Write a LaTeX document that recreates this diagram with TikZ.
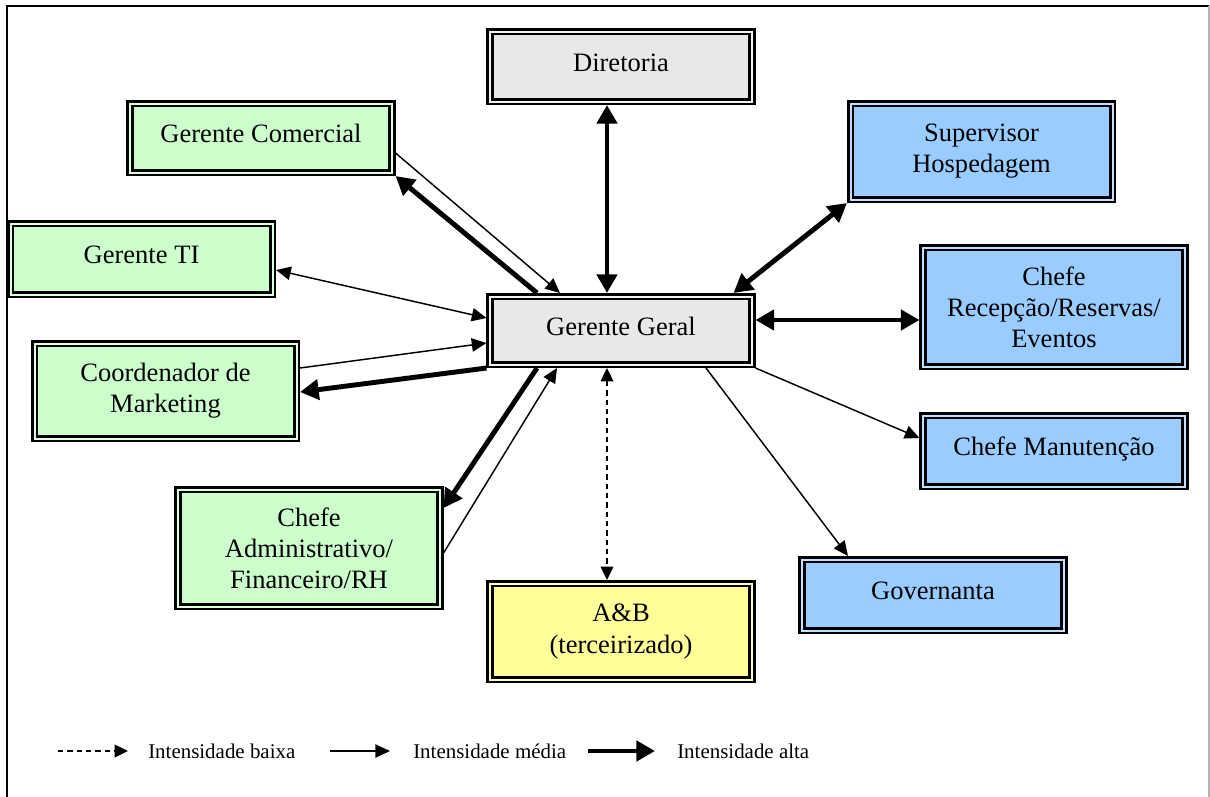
\documentclass[tikz,border=0pt]{standalone}
\usepackage{fontspec}
\setmainfont{Liberation Serif}
\usetikzlibrary{arrows.meta,calc}
\definecolor{cinza}{HTML}{E8E8E8}
\definecolor{verde}{HTML}{CCFFCC}
\definecolor{azul}{HTML}{99CCFF}
\definecolor{amarelo}{HTML}{FFFF99}
\begin{document}
\begin{tikzpicture}[x=0.75pt,y=-0.75pt]
\tikzset{baixa/.style={line width=1.1pt,dash pattern=on 4pt off 3pt,>={Triangle[length=10pt,width=9.5pt]}}}
\tikzset{media/.style={line width=1.1pt,>={Triangle[length=11pt,width=10pt]}}}
\tikzset{alta/.style={line width=3.7pt,>={Triangle[length=14pt,width=15pt]}}}
\tikzstyle{cargo}=[draw,double,line width=1.9pt,double distance=1.5pt,minimum width=196.5pt,inner sep=0pt,outer sep=2.65pt,align=center,font=\fontsize{19.9}{23.3}\selectfont]
\tikzstyle{linha}=[text height=13.5pt,text depth=6.6pt]
\tikzstyle{legenda}=[anchor=west,inner sep=0pt,font=\fontsize{15.7}{18}\selectfont]
\useasboundingbox (0,0) rectangle (1210,796);
% moldura
\draw[line width=1.5pt] (7,800)--(7,6)--(1209,6);
\draw[line width=0.8pt,black!30] (1209,6)--(1209,800);
% cargos
\node[cargo,linha,fill=cinza,double=cinza!50!white,minimum height=52.5pt] (dir)at(621,66.5){Diretoria};
\node[cargo,linha,fill=cinza,double=cinza!50!white,minimum height=51pt] (gg)at(621,330.5){Gerente Geral};
\node[cargo,fill=amarelo,double=amarelo!60!white,minimum height=72pt] (ab)at(621,631.5){A\&B\\(terceirizado)};
\node[cargo,linha,fill=verde,double=verde!60!white,minimum height=51.75pt] (gcom)at(261,138){Gerente Comercial};
\node[cargo,linha,fill=verde,double=verde!60!white,minimum height=53.25pt] (gti)at(141.5,259){Gerente TI};
\node[cargo,fill=verde,double=verde!60!white,minimum height=71.25pt] (cmkt)at(165.5,391){Coordenador de\\Marketing};
\node[cargo,fill=verde,double=verde!60!white,minimum height=87.75pt] (cadm)at(309,548){Chefe\\Administrativo/\\Financeiro/RH};
\node[cargo,fill=azul,double=azul!60!white,minimum height=72pt] (sup)at(981.5,151.5){Supervisor\\Hospedagem};
\node[cargo,fill=azul,double=azul!60!white,minimum height=89.25pt] (crec)at(1054,307){Chefe\\Recepção/Reservas/\\Eventos};
\node[cargo,linha,fill=azul,double=azul!60!white,minimum height=53.25pt] (cman)at(1054,451){Chefe Manutenção};
\node[cargo,linha,fill=azul,double=azul!60!white,minimum height=53.25pt] (gov)at(933,595){Governanta};
% relacoes
\draw[alta,<->] ($(dir.south)+(-14,0)$)--($(gg.north)+(-14,0)$);
\draw[baixa,<->] ($(gg.south)+(-14,0)$)--($(ab.north)+(-14,0)$);
\draw[media,->] ($(gcom.east)+(0,15)$)--($(gg.north)+(-61,0)$);
\draw[alta,->] ($(gg.north)+(-84,0)$)--(gcom.south east);
\draw[media,<->] ($(gti.east)+(0,11)$)--($(gg.west)+(0,-12.5)$);
\draw[media,->] ($(cmkt.east)+(0,-23)$)--($(gg.west)+(0,12.5)$);
\draw[alta,->] (gg.south west)--($(cmkt.east)+(0,1)$);
\draw[alta,->] ($(gg.south)+(-84,0)$)--($(cadm.east)+(0,-40)$);
\draw[media,->] ($(cadm.east)+(0,5)$)--($(gg.south)+(-64,0)$);
\draw[alta,<->] ($(gg.north east)+(-22,0)$)--(sup.south west);
\draw[alta,<->] ($(gg.east)+(0,-10.5)$)--($(crec.west)+(0,13)$);
\draw[media,->] (gg.south east)--($(cman.west)+(0,-13)$);
\draw[media,->] ($(gg.south)+(85,0)$)--($(gov.north)+(-85,0)$);
% legenda
\coordinate (b1)at(58,751); \coordinate (b2)at(128,751);
\coordinate (m1)at(330,751); \coordinate (m2)at(390,751);
\coordinate (a1)at(588,751); \coordinate (a2)at(655,751);
\draw[baixa,->] (b1)--(b2);
\draw[media,->] (m1)--(m2);
\draw[alta,->] (a1)--(a2);
\node[legenda] (lb)at(148,751){Intensidade baixa};
\node[legenda] (lm)at(413,751){Intensidade média};
\node[legenda] (la)at(677,751){Intensidade alta};
\end{tikzpicture}
\end{document}
